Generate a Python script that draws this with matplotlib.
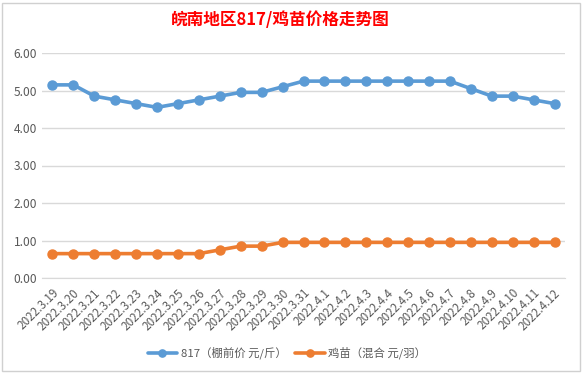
import matplotlib
matplotlib.use("Agg")
import matplotlib.pyplot as plt
from matplotlib.patches import Rectangle
from matplotlib.transforms import ScaledTranslation

plt.rcParams['font.family'] = ['Noto Sans CJK SC', 'DejaVu Sans']

dates = ["2022.3.19", "2022.3.20", "2022.3.21", "2022.3.22", "2022.3.23", "2022.3.24",
         "2022.3.25", "2022.3.26", "2022.3.27", "2022.3.28", "2022.3.29", "2022.3.30",
         "2022.3.31", "2022.4.1", "2022.4.2", "2022.4.3", "2022.4.4", "2022.4.5",
         "2022.4.6", "2022.4.7", "2022.4.8", "2022.4.9", "2022.4.10", "2022.4.11",
         "2022.4.12"]
price_817 = [5.15, 5.15, 4.85, 4.75, 4.65, 4.55, 4.65, 4.75, 4.85, 4.95, 4.95, 5.10,
             5.25, 5.25, 5.25, 5.25, 5.25, 5.25, 5.25, 5.25, 5.05, 4.85, 4.85, 4.75, 4.65]
price_chick = [0.65, 0.65, 0.65, 0.65, 0.65, 0.65, 0.65, 0.65, 0.75, 0.85, 0.85, 0.95,
               0.95, 0.95, 0.95, 0.95, 0.95, 0.95, 0.95, 0.95, 0.95, 0.95, 0.95, 0.95, 0.95]
series_names = ["817（棚前价 元/斤）", "鸡苗（混合 元/羽）"]
title = "皖南地区817/鸡苗价格走势图"

W, H = 584, 375
fig = plt.figure(figsize=(W / 100, H / 100), dpi=100)
fig.patch.set_facecolor('white')

# chart border
fig.add_artist(Rectangle((2 / W, 4 / H), 578 / W, 368 / H, transform=fig.transFigure,
                         fill=False, edgecolor='#D0D0D0', linewidth=1.0))

left, right = 42 / W, 565 / W
top, bottom = 1 - 53 / H, 1 - 278 / H
ax = fig.add_axes([left, bottom, right - left, top - bottom])

x = list(range(len(dates)))
ax.plot(x, price_817, color='#5B9BD5', linewidth=2.6, marker='o', markersize=6.5,
        label=series_names[0], solid_capstyle='round')
ax.plot(x, price_chick, color='#ED7D31', linewidth=2.6, marker='o', markersize=6.5,
        label=series_names[1], solid_capstyle='round')

ax.set_xlim(-0.5, len(dates) - 0.5)
ax.set_ylim(0, 6)
ax.set_yticks([0, 1, 2, 3, 4, 5, 6])
ax.set_yticklabels([f"{v:.2f}" for v in [0, 1, 2, 3, 4, 5, 6]])
ax.grid(axis='y', color='#D9D9D9', linewidth=1.0)
ax.set_axisbelow(True)
for s in ['left', 'right', 'top']:
    ax.spines[s].set_visible(False)
ax.spines['bottom'].set_color('#D9D9D9')
ax.tick_params(axis='y', length=0, labelsize=8.6, labelcolor='#595959', pad=3.5)
ax.tick_params(axis='x', length=0, labelsize=8.4, labelcolor='#595959', pad=0)
ax.set_xticks(x)
ax.set_xticklabels(dates, rotation=45, ha='right', va='center', rotation_mode='anchor')
off = ScaledTranslation(4 / 100, -13 / 100, fig.dpi_scale_trans)
for lbl in ax.get_xticklabels():
    lbl.set_transform(lbl.get_transform() + off)

fig.text(280 / W, 1 - 20 / H, title, color='#FF0000', fontsize=12, fontweight='bold',
         ha='center', va='center')

fig.legend(loc='center', bbox_to_anchor=(287 / W, 1 - 353 / H), ncol=2, frameon=False,
           fontsize=8.2, labelcolor='#595959', handlelength=2.6, handletextpad=0.3,
           columnspacing=0.8, markerscale=0.8)

fig.savefig("out.png", dpi=100)
